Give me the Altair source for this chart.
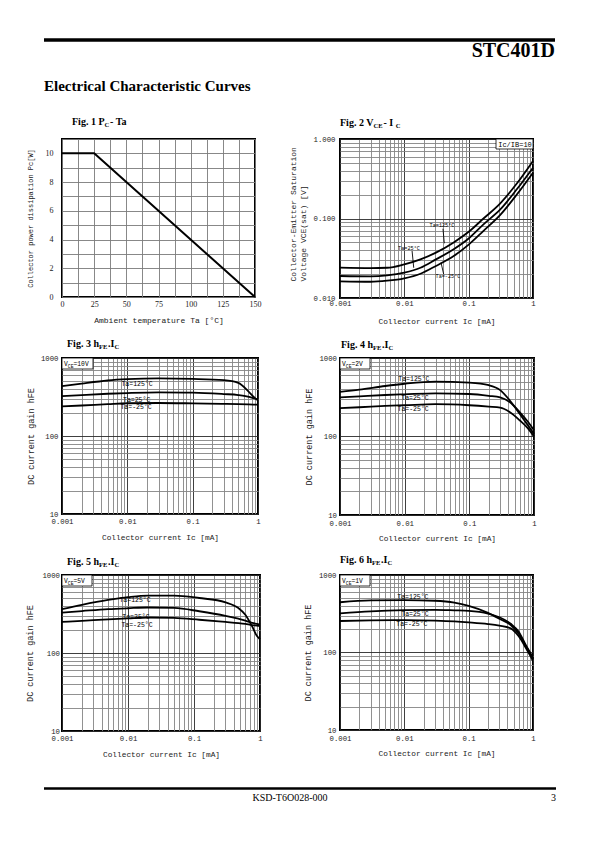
import json
import altair as alt
import pandas as pd

SERIF = "Liberation Serif"
MONO = "Liberation Mono"
ONE = pd.DataFrame({"k": [0]})

# ---------------- data ----------------
# Fig.1  Pc - Ta
ta_c = [0, 25, 150]
pc_w = [10, 10, 0]

# Fig.2  VCE(sat) - IC  (IC/IB = 10)
ic_f2 = [0.001, 0.003, 0.0054, 0.01, 0.0178, 0.031, 0.0585, 0.1, 0.17, 0.31, 0.56, 1.0]
vce_125 = [0.0241, 0.0238, 0.0240, 0.0265, 0.0306, 0.0372, 0.050, 0.068, 0.100, 0.155, 0.275, 0.53]
vce_25 = [0.0189, 0.0187, 0.0192, 0.0208, 0.0240, 0.0306, 0.041, 0.056, 0.0845, 0.130, 0.233, 0.436]
vce_m25 = [0.0162, 0.0160, 0.0165, 0.0177, 0.0202, 0.0253, 0.0337, 0.047, 0.0700, 0.111, 0.200, 0.377]

# Fig.3  hFE - IC  (VCE = 10V)
ic_f3 = [0.001, 0.002, 0.005, 0.01, 0.03, 0.1, 0.3, 0.5, 0.7, 0.85, 1.0]
h3_125 = [435, 470, 515, 535, 548, 540, 520, 480, 380, 320, 285]
h3_25 = [325, 335, 348, 355, 362, 360, 345, 335, 320, 305, 295]
h3_m25 = [240, 246, 256, 263, 265, 262, 258, 256, 254, 253, 252]

# Fig.4  hFE - IC  (VCE = 2V)
ic_f4 = [0.001, 0.002, 0.005, 0.01, 0.03, 0.1, 0.2, 0.3, 0.42, 0.6, 0.8, 1.0]
h4_125 = [370, 395, 440, 470, 500, 485, 450, 390, 290, 195, 140, 108]
h4_25 = [315, 325, 338, 345, 355, 348, 330, 315, 275, 205, 155, 120]
h4_m25 = [230, 236, 245, 250, 258, 250, 240, 233, 205, 161, 128, 100]

# Fig.5  hFE - IC  (VCE = 5V)
ic_f5 = [0.001, 0.002, 0.005, 0.01, 0.02, 0.05, 0.12, 0.3, 0.47, 0.6, 0.76, 0.9, 1.0]
h5_125 = [365, 415, 480, 520, 545, 545, 507, 446, 377, 309, 219, 165, 150]
h5_25 = [330, 345, 365, 375, 383, 378, 343, 300, 275, 260, 243, 236, 232]
h5_m25 = [250, 258, 270, 278, 285, 282, 267, 250, 242, 236, 228, 225, 222]

# Fig.6  hFE - IC  (VCE = 1V)
ic_f6 = [0.001, 0.003, 0.01, 0.03, 0.06, 0.1, 0.2, 0.3, 0.45, 0.6, 0.76, 0.9, 1.0]
h6_125 = [445, 470, 475, 465, 440, 400, 325, 273, 226, 175, 124, 98, 82]
h6_25 = [320, 340, 352, 355, 350, 345, 318, 285, 235, 185, 128, 100, 84]
h6_m25 = [255, 260, 262, 258, 252, 245, 233, 222, 205, 162, 118, 92, 78]

TA_NAMES = ["Ta=125°C", "Ta=25°C", "Ta=-25°C"]

# label anchor points (Ic, value) per figure
lab_f2 = [(0.0385, 0.083), (0.0118, 0.0426), (0.0477, 0.0189)]
arr_f2 = [(0.0399, 0.0744, 0.0418, 0.0488), (0.0132, 0.039, 0.014, 0.024), (0.0409, 0.0199, 0.0372, 0.0278)]
lab_f3 = [(0.0141, 466), (0.0139, 291), (0.0136, 237)]
lab_f4 = [(0.0139, 540), (0.0144, 309), (0.0135, 224)]
lab_f5 = [(0.0128, 478), (0.0132, 292), (0.0137, 229)]
lab_f6 = [(0.0136, 522), (0.0146, 316), (0.0131, 231)]

# grid / tick positions
XVALS = [round(m * 10.0 ** e, 6) for e in (-3, -2, -1) for m in range(1, 10)] + [1.0]
XDECS = [0.001, 0.01, 0.1, 1]
HVALS = [round(m * 10.0 ** e, 6) for e in (1, 2) for m in range(1, 10)] + [1000.0]
HDECS = [10, 100, 1000]
VVALS = [round(m * 10.0 ** e, 6) for e in (-2, -1) for m in range(1, 10)] + [1.0]
VDECS = [0.01, 0.1, 1]

GRID_MINOR = "#858585"
GRID_MAJOR = "#2a2a2a"

# ---------------- helpers ----------------
BOLDW = {' ': .25, '.': .25, '-': .333, 'F': .611, 'i': .278, 'g': .5, 'P': .611, 'C': .722,
         'T': .667, 'a': .5, 'V': .722, 'E': .667, 'h': .556, 'I': .389}
for d in "0123456789":
    BOLDW[d] = .5


def txt(x, y, s, size, font=SERIF, weight="normal", align="left", baseline="alphabetic", color="black"):
    return alt.Chart(ONE).mark_text(text=s, font=font, fontSize=size, fontWeight=weight, align=align,
                                    baseline=baseline, color=color).encode(x=alt.value(x), y=alt.value(y))


def hrule(x1, x2, y, w, color="black"):
    return alt.Chart(ONE).mark_rule(color=color, strokeWidth=w).encode(
        x=alt.value(x1), x2=alt.value(x2), y=alt.value(y))


def fig_title(x0, y0, segs, size=10.0, sub=6.5):
    out = []
    x = x0
    for s, is_sub in segs:
        fs = sub if is_sub else size
        out.append(txt(x, y0 + (2.5 if is_sub else 0), s, fs, weight="bold"))
        x += sum(BOLDW[c] for c in s) * fs + (0.8 if is_sub else 0)
    return out


def corner_box(x1, x2, y1, y2):
    return alt.Chart(ONE).mark_rect(fill="white", stroke="black", strokeWidth=0.8).encode(
        x=alt.value(x1), x2=alt.value(x2), y=alt.value(y1), y2=alt.value(y2))


def vce_box(w, volts):
    size, sub = 6.3, 4.8
    cw, sw = 0.6 * size, 0.6 * sub
    return [corner_box(0, w, 0, 11),
            txt(2, 8, "V", size, font=MONO),
            txt(2 + cw, 9.5, "CE", sub, font=MONO),
            txt(2 + cw + 2 * sw, 8, "=" + volts, size, font=MONO)]


def log_axis(vals, decs, fmt, title, **kw):
    test = "indexof(%s, datum.value) >= 0" % json.dumps(decs)
    base = dict(values=vals, labelExpr="%s ? format(datum.value, '%s') : ''" % (test, fmt),
                grid=True, gridColor={"condition": {"test": test, "value": GRID_MAJOR}, "value": GRID_MINOR},
                gridWidth=0.9, ticks=False, tickSize=0, domain=False, labelFlush=False, labelOverlap=False,
                labelFont=MONO, labelFontSize=7.3, labelColor="#222", title=title, titleFont=MONO,
                titleFontSize=7.8, titleFontWeight="normal", titleColor="#222")
    base.update(kw)
    return alt.Axis(**base)


def curves_df(ic, series):
    rows = []
    for name, vals in zip(TA_NAMES, series):
        for a, b in zip(ic, vals):
            rows.append({"Ic": a, "val": b, "Ta": name})
    return pd.DataFrame(rows)


def labels_df(points):
    return pd.DataFrame({"Ic": [p[0] for p in points], "val": [p[1] for p in points], "label": TA_NAMES})


def log_panel(ic, series, labs, w, h, ydom, yvals, ydecs, yfmt, ytitle, xpad, ypad, ytx,
              ytsize=8.5, lab_size=6.5, ytitle_kw=None):
    xs = alt.Scale(type="log", domain=[0.001, 1], nice=False)
    ys = alt.Scale(type="log", domain=ydom, nice=False)
    xa = log_axis(XVALS, XDECS, "~g", "Collector current Ic [mA]", labelPadding=xpad,
                  titleX=w / 2, titleY=23, titleAlign="center", titleBaseline="middle")
    ykw = dict(labelPadding=ypad, titleX=ytx, titleY=h / 2, titleAngle=270, titleAlign="center",
               titleBaseline="middle", titleFontSize=ytsize)
    if ytitle_kw:
        ykw.update(ytitle_kw)
    ya = log_axis(yvals, ydecs, yfmt, ytitle, **ykw)
    X = alt.X("Ic:Q", scale=xs, axis=xa)
    Y = alt.Y("val:Q", scale=ys, axis=ya)
    lines = alt.Chart(curves_df(ic, series)).mark_line(
        color="black", strokeWidth=1.8, interpolate="monotone").encode(x=X, y=Y, detail="Ta:N")
    labels = alt.Chart(labels_df(labs)).mark_text(
        font=MONO, fontSize=lab_size, align="center", baseline="middle", color="black").encode(
        x=X, y=Y, text="label:N")
    return X, Y, [lines, labels]


# ---------------- Fig 1 ----------------
W1, H1 = 193, 158
df1 = pd.DataFrame({"Ta": ta_c, "Pc": pc_w})
x1 = alt.X("Ta:Q", scale=alt.Scale(domain=[0, 150], nice=False),
           axis=alt.Axis(values=[i * 12.5 for i in range(13)], labelExpr="datum.value % 25 == 0 ? datum.label : ''",
                         grid=True, gridColor="#7a7a7a", gridWidth=0.9, ticks=False, tickSize=0, domain=False,
                         labelFlush=False, labelOverlap=False, labelFont=SERIF, labelFontSize=8,
                         labelColor="#222", labelPadding=3, title="Ambient temperature Ta [°C]",
                         titleFont=MONO, titleFontSize=8, titleFontWeight="normal", titleColor="#222",
                         titleX=W1 / 2, titleY=23, titleAlign="center", titleBaseline="middle"))
y1 = alt.Y("Pc:Q", scale=alt.Scale(domain=[0, 11], nice=False),
           axis=alt.Axis(values=list(range(12)), labelExpr="datum.value % 2 == 0 && datum.value <= 10 ? datum.label : ''",
                         grid=True, gridColor="#7a7a7a", gridWidth=0.9, ticks=False, tickSize=0, domain=False,
                         labelFlush=False, labelOverlap=False, labelFont=SERIF, labelFontSize=8,
                         labelColor="#222", labelPadding=9, title="Collector power dissipation Pc[W]",
                         titleFont=MONO, titleFontSize=7, titleFontWeight="normal", titleColor="#222",
                         titleX=-32, titleY=H1 / 2, titleAngle=270, titleAlign="center", titleBaseline="middle"))
f1_layers = [alt.Chart(df1).mark_line(color="black", strokeWidth=2).encode(x=x1, y=y1)]
# page anchor (page top-left corner) and page header
f1_layers.append(hrule(-52, -51, -129.5, 1, color="white"))
f1_layers.append(hrule(-18, 493, -99, 3.5))
f1_layers.append(txt(493, -82, "STC401D", 20, weight="bold", align="right"))
f1_layers.append(txt(-18, -48, "Electrical Characteristic Curves", 15, weight="bold"))
f1_layers += fig_title(10, -14.5, [("Fig. 1 P", 0), ("C", 1), (" - Ta", 0)])
f1 = alt.layer(*f1_layers).properties(width=W1, height=H1)

# ---------------- Fig 2 ----------------
W2, H2 = 193, 159
X2, Y2, f2_layers = log_panel(ic_f2, [vce_125, vce_25, vce_m25], lab_f2, W2, H2, [0.01, 1], VVALS, VDECS,
                              ".3f", ["Collector-Emitter Saturation", "Voltage VCE(sat) [V]"], 1, 5, -47,
                              ytsize=8, lab_size=5.2,
                              ytitle_kw=dict(titleAlign="left", titleY=142, titleLineHeight=10))
arr_df = pd.DataFrame({"Ic": [a[0] for a in arr_f2], "val": [a[1] for a in arr_f2],
                       "Ic2": [a[2] for a in arr_f2], "val2": [a[3] for a in arr_f2]})
f2_layers.append(alt.Chart(arr_df).mark_rule(color="black", strokeWidth=0.9).encode(
    x=X2, y=Y2, x2="Ic2:Q", y2="val2:Q"))
f2_layers.append(corner_box(156, W2, 0, 10))
f2_layers.append(txt(175, 7.5, "Ic/IB=10", 7, font=MONO, align="center"))
f2_layers += fig_title(0, -13.5, [("Fig. 2 V", 0), ("CE", 1), (" - I", 0), ("C", 1)])
f2 = alt.layer(*f2_layers).properties(width=W2, height=H2)

# ---------------- Fig 3 ----------------
W3, H3 = 196, 156
_, _, f3_layers = log_panel(ic_f3, [h3_125, h3_25, h3_m25], lab_f3, W3, H3, [10, 1000], HVALS, HDECS,
                            "~g", "DC current gain hFE", 3.5, 4, -31.5)
f3_layers += vce_box(31, "10V")
f3_layers += fig_title(5, -11.5, [("Fig. 3 h", 0), ("FE", 1), (".I", 0), ("C", 1)])
f3 = alt.layer(*f3_layers).properties(width=W3, height=H3)

# ---------------- Fig 4 ----------------
W4, H4 = 194, 157
_, _, f4_layers = log_panel(ic_f4, [h4_125, h4_25, h4_m25], lab_f4, W4, H4, [10, 1000], HVALS, HDECS,
                            "~g", "DC current gain hFE", 4, 3.5, -32)
f4_layers += vce_box(30, "2V")
f4_layers += fig_title(1, -10.5, [("Fig. 4 h", 0), ("FE", 1), (".I", 0), ("C", 1)])
f4 = alt.layer(*f4_layers).properties(width=W4, height=H4)

# ---------------- Fig 5 ----------------
W5, H5 = 198, 156
_, _, f5_layers = log_panel(ic_f5, [h5_125, h5_25, h5_m25], lab_f5, W5, H5, [10, 1000], HVALS, HDECS,
                            "~g", "DC current gain hFE", 3.5, 2.5, -32.5)
f5_layers += vce_box(30, "5V")
f5_layers += fig_title(5, -10.5, [("Fig. 5 h", 0), ("FE", 1), (".I", 0), ("C", 1)])
# page footer
f5_layers.append(hrule(-18, 494, 213.5, 2.5))
f5_layers.append(txt(228, 226, "KSD-T6O028-000", 10, align="center"))
f5_layers.append(txt(494, 226, "3", 10, align="right"))
f5 = alt.layer(*f5_layers).properties(width=W5, height=H5)

# ---------------- Fig 6 ----------------
W6, H6 = 193, 155
_, _, f6_layers = log_panel(ic_f6, [h6_125, h6_25, h6_m25], lab_f6, W6, H6, [10, 1000], HVALS, HDECS,
                            "~g", "DC current gain hFE", 4, 4, -32.5)
f6_layers += vce_box(30, "1V")
f6_layers += fig_title(0, -12.5, [("Fig. 6 h", 0), ("FE", 1), (".I", 0), ("C", 1)])
f6 = alt.layer(*f6_layers).properties(width=W6, height=H6)

chart = alt.concat(f1, f2, f3, f4, f5, f6, columns=2, spacing={"row": 60, "column": 80},
                   bounds="flush").properties(padding=0, background="white").configure_view(
    stroke="black", strokeWidth=2)

chart.save("out.html", embed_options={"renderer": "svg", "actions": False})
